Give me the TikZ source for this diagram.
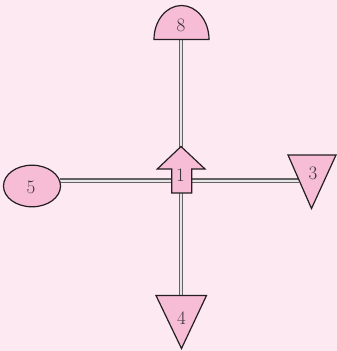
\documentclass[tikz,border=0pt]{standalone}
\usetikzlibrary{calc}
\definecolor{bgpink}{RGB}{253,233,241}
\definecolor{fillpink}{RGB}{247,188,214}
\definecolor{edge}{RGB}{35,31,32}
\tikzset{
  shapebox/.style={draw=edge, fill=fillpink, line width=1.2pt, line join=miter},
  link/.style={draw=edge!70, double=white!80!gray, double distance=2pt, line width=1.1pt},
  lbl/.style={font=\fontsize{19}{21}\selectfont, text=edge!90, inner sep=0pt}
}
\begin{document}
\begin{tikzpicture}[x=1pt,y=-1pt]
\fill[bgpink] (0,0) rectangle (337,351);
\useasboundingbox (0,0) rectangle (337,351);
% connector end points
\coordinate (c8) at (181,39);
\coordinate (c4) at (181,295.5);
\coordinate (c5) at (60.3,180.5);
\coordinate (c3) at (298.8,180.5);
% connectors
\draw[link] (c8) -- (c4);
\draw[link] (c5) -- (c3);
% shape 8: half disc
\draw[shapebox] (154,39.5) arc[start angle=180, end angle=360, x radius=27.5, y radius=34] -- cycle;
\node[lbl] (n8) at (181,25) {8};
% shape 5: ellipse
\draw[shapebox] (32,186) ellipse[x radius=28.5, y radius=20.8];
\node[lbl] (n5) at (31,187) {5};
% shape 3: down triangle
\draw[shapebox] (288,155) -- (336,155) -- (311.5,208.5) -- cycle;
\node[lbl] (n3) at (313,173) {3};
% shape 4: down triangle
\draw[shapebox] (156,295.5) -- (206.5,295.5) -- (181.5,348.5) -- cycle;
\node[lbl] (n4) at (181.5,318) {4};
% shape 1: up arrow
\draw[shapebox] (181,146.5) -- (205,169) -- (191.7,169) -- (191.7,193) -- (171.7,193) -- (171.7,169) -- (157.3,169) -- cycle;
\node[lbl] (n1) at (180.5,175) {1};
\end{tikzpicture}
\end{document}
